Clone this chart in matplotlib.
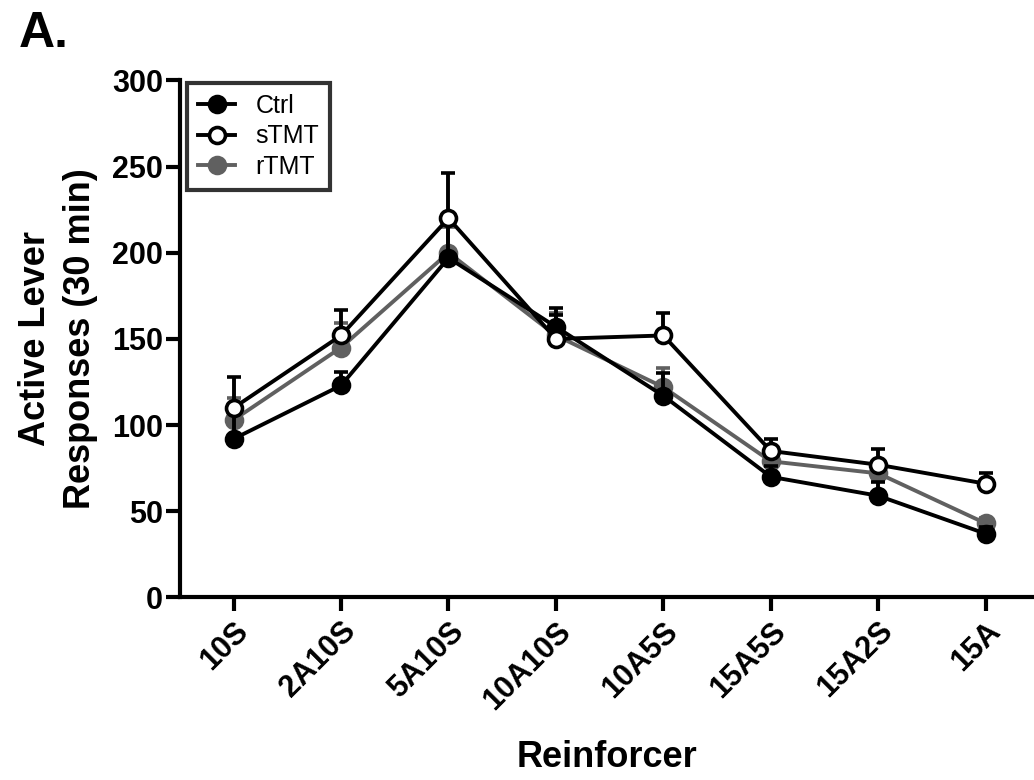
import numpy as np
import matplotlib.pyplot as plt

plt.rcParams['font.family'] = ['Liberation Sans', 'DejaVu Sans']

categories = ["10S", "2A10S", "5A10S", "10A10S", "10A5S", "15A5S", "15A2S", "15A"]

ctrl = [92, 123, 197, 157, 117, 70, 59, 37]
ctrl_err = [17, 8, 21, 11, 13, 6, 8, 4]
stmt = [110, 152, 220, 150, 152, 85, 77, 66]
stmt_err = [18, 15, 26, 14, 13, 7, 9, 6]
rtmt = [103, 145, 200, 152, 122, 79, 72, 43]
rtmt_err = [13, 14, 15, 13, 11, 5, 6, 3]

x = np.arange(len(categories))

fig = plt.figure(figsize=(10.34, 7.8), dpi=100)
ax = fig.add_axes([0.174, 0.234, 0.826, 0.663])

def draw(vals, err, color, face, label, z):
    ax.errorbar(x, vals, yerr=[np.zeros(len(err)), err], color=color,
                ecolor=color, elinewidth=2.8, capsize=5, capthick=2.8,
                lw=2.8, marker='o', markersize=11.5, markerfacecolor=face,
                markeredgecolor=color, markeredgewidth=2.6, label=label, zorder=z)

draw(rtmt, rtmt_err, '#606060', '#606060', 'rTMT', 2)
draw(ctrl, ctrl_err, 'black', 'black', 'Ctrl', 3)
draw(stmt, stmt_err, 'black', 'white', 'sTMT', 4)

ax.set_xlim(-0.5, 7.45)
ax.set_ylim(0, 300)
ax.set_yticks([0, 50, 100, 150, 200, 250, 300])
ax.set_xticks(x)
ax.set_xticklabels(categories, rotation=45, ha='right', va='top',
                   rotation_mode='anchor', fontsize=22, fontweight='bold')
for lab in ax.get_yticklabels():
    lab.set_fontsize(22)
    lab.set_fontweight('bold')

for s in ['top', 'right']:
    ax.spines[s].set_visible(False)
for s in ['left', 'bottom']:
    ax.spines[s].set_linewidth(3)
ax.tick_params(axis='both', width=3, length=10, direction='out')
ax.tick_params(axis='y', pad=2)

ax.set_ylabel("Active Lever\nResponses (30 min)", fontsize=26, fontweight='bold',
              linespacing=1.4, labelpad=10)
ax.set_xlabel("Reinforcer", fontsize=26, fontweight='bold', labelpad=18)

handles, labels = ax.get_legend_handles_labels()
order = [labels.index(n) for n in ['Ctrl', 'sTMT', 'rTMT']]
handles = [h[0] for h in handles]
leg = ax.legend([handles[i] for i in order], [labels[i] for i in order],
                loc='upper left', bbox_to_anchor=(0.005, 1.0), fontsize=18,
                frameon=True, fancybox=False, edgecolor='black',
                handlelength=1.5, handletextpad=0.8, labelspacing=0.25,
                borderpad=0.45, borderaxespad=0.1)
leg.get_frame().set_linewidth(3)

fig.text(0.018, 0.94, "A.", fontsize=36, fontweight='bold')

fig.savefig("out.png", dpi=100)
